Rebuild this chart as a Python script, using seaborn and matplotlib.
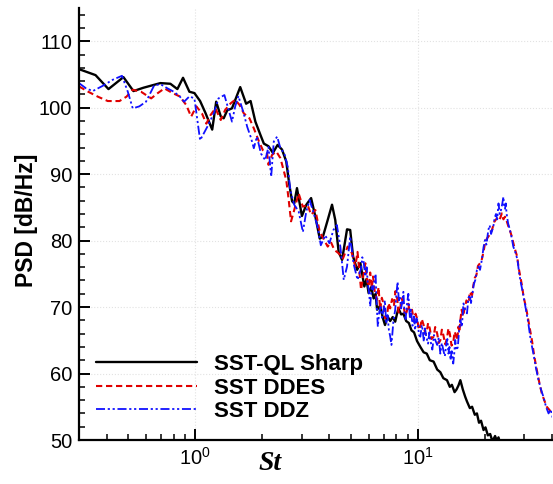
import numpy as np
import pandas as pd
import seaborn as sns
import matplotlib
matplotlib.use("Agg")
import matplotlib.pyplot as plt
from matplotlib.ticker import LogLocator, NullFormatter, MultipleLocator, FixedLocator

# ---------------- data ----------------
st_ql = [0.30, 0.33, 0.356, 0.407, 0.475, 0.527, 0.584, 0.696, 0.772, 0.83, 0.88, 0.94, 0.99,
         1.05, 1.11, 1.19, 1.24, 1.30, 1.34, 1.39, 1.46, 1.59, 1.69, 1.77, 1.86, 1.96, 2.03,
         2.13, 2.23, 2.34, 2.45, 2.56, 2.64, 2.72, 2.78, 2.86, 3.01, 3.15, 3.31, 3.46, 3.62,
         3.74, 3.93, 4.11, 4.25, 4.4, 4.56, 4.80, 4.96, 5.11, 5.33, 5.51, 5.74, 5.87, 6.0,
         6.16, 6.32, 6.45, 6.55, 6.76, 6.95, 7.11, 7.3, 7.5, 7.7, 7.9, 8.05, 8.17, 8.4, 8.6,
         8.85, 9.1, 9.35, 9.6, 9.9, 10.25, 10.6, 10.95, 11.3, 11.75, 12.2, 12.6, 13.0, 13.5,
         13.9, 14.2, 14.6, 14.9, 15.2, 15.5, 15.9, 16.3, 16.6, 17.1, 17.5, 18.0, 18.4, 18.8,
         19.2, 19.7, 20.1, 20.6, 21.1, 21.6, 22.2, 22.6, 23.0, 23.6, 24.5]
psd_ql = [105.8, 105.3, 104.9, 102.8, 104.6, 102.5, 103.0, 103.7, 103.6, 102.8, 104.5, 102.4, 102.2,
          101.0, 99.2, 96.7, 100.9, 98.7, 98.4, 99.6, 99.9, 103.1, 100.6, 101.0, 97.9, 95.9, 94.6,
          94.2, 93.2, 94.4, 93.7, 91.9, 88.5, 85.9, 85.6, 87.9, 83.7, 85.4, 86.4, 83.6, 80.3,
          80.6, 83.1, 85.4, 83.1, 78.3, 77.1, 81.7, 81.6, 77.6, 75.6, 76.6, 73.1, 74.2, 72.1,
          73.0, 71.3, 72.0, 69.6, 70.2, 68.4, 67.3, 68.6, 67.9, 68.5, 67.8, 69.0, 69.8, 68.9, 69.0,
          67.9, 67.6, 66.5, 66.2, 64.9, 64.0, 63.2, 63.0, 62.0, 61.8, 60.6, 60.2, 59.3, 59.0,
          58.0, 58.3, 57.2, 57.6, 58.2, 59.0, 57.6, 56.5, 55.8, 54.8, 55.0, 53.8, 54.0, 52.6,
          52.9, 51.5, 51.9, 50.7, 50.9, 49.8, 50.6, 49.9, 50.4, 49.0, 48.0]

st_ddes = [0.30, 0.33, 0.365, 0.404, 0.456, 0.49, 0.523, 0.57, 0.633, 0.678,
           0.726, 0.79, 0.85, 0.91, 0.957, 1.01, 1.07, 1.12, 1.17, 1.23,
           1.30, 1.36, 1.44, 1.51, 1.58, 1.65, 1.75, 1.83, 1.92, 2.01,
           2.10, 2.13, 2.21, 2.31, 2.41, 2.49, 2.56, 2.62, 2.69, 2.78,
           2.91, 3.04, 3.19, 3.31, 3.46, 3.62, 3.76, 3.93, 4.06, 4.21,
           4.4, 4.6, 4.83, 5.05, 5.23, 5.35, 5.55, 5.8, 5.9, 6.0,
           6.1, 6.2, 6.28, 6.4, 6.55, 6.65, 6.76, 6.88, 7.0, 7.12,
           7.25, 7.38, 7.5, 7.65, 7.8, 7.92, 8.05, 8.18, 8.3, 8.45,
           8.6, 8.75, 8.9, 9.05, 9.25, 9.4, 9.6, 9.75, 9.9, 10.1,
           10.25, 10.4, 10.6, 10.8, 10.95, 11.1, 11.3, 11.5, 11.75, 11.95,
           12.2, 12.4, 12.6, 12.8, 13.0, 13.25, 13.5, 13.7, 13.9, 14.15,
           14.4, 14.6, 14.8, 15.0, 15.2, 15.35, 15.5, 15.7, 15.95, 16.2,
           16.5, 16.9, 17.1, 17.3, 17.5, 17.7, 18.0, 18.3, 18.6, 19.0,
           19.3, 19.7, 20.0, 20.4, 20.9, 21.5, 22.0, 22.6, 23.2, 23.8,
           24.2, 24.6, 25.0, 25.5, 25.9, 26.4, 27.1, 27.9, 28.3, 28.8,
           29.3, 29.8, 30.3, 30.9, 31.7, 32.5, 33.3, 34.2, 35.1, 36.0,
           36.9, 37.9, 39.0, 40.0]
psd_ddes = [103.2, 102.4, 101.65, 101.0, 101.0, 101.65, 102.7, 102.4, 101.4, 102.2,
            102.9, 102.2, 101.7, 100.4, 98.65, 100.2, 99.15, 97.6, 98.9, 99.9,
            98.15, 99.65, 100.65, 101.2, 100.4, 99.15, 98.4, 96.9, 95.1, 93.6,
            93.1, 91.4, 92.9, 93.4, 92.4, 90.6, 89.1, 86.4, 82.9, 84.6,
            87.1, 85.1, 85.4, 83.9, 84.6, 81.3, 80.3, 79.1, 79.8, 78.6,
            78.1, 77.3, 79.1, 78.1, 76.1, 78.3, 72.6, 76.6, 74.0, 73.1,
            75.2, 72.8, 74.6, 72.2, 71.1, 73.0, 69.6, 71.4, 70.5, 68.3,
            68.6, 70.6, 69.8, 71.2, 70.3, 72.4, 71.5, 69.2, 69.6, 71.3,
            70.4, 68.7, 69.3, 70.5, 68.5, 69.6, 67.8, 69.0, 68.3, 66.6,
            67.05, 68.2, 67.3, 65.9, 66.3, 67.6, 66.8, 65.2, 65.55, 67.0,
            66.0, 64.6, 65.0, 66.6, 65.8, 64.4, 65.3, 66.8, 66.0, 64.2,
            64.6, 66.3, 65.8, 65.0, 67.05, 66.2, 68.0, 69.6, 68.6, 69.8,
            71.0, 70.55, 72.3, 72.0, 71.8, 73.1, 74.4, 74.8, 76.2, 76.6,
            77.0, 78.3, 79.6, 80.3, 80.8, 81.6, 82.8, 83.35, 83.0, 84.1,
            83.2, 83.6, 83.0, 82.1, 81.5, 80.6, 79.0, 77.6, 76.0, 74.6,
            73.3, 71.6, 70.5, 69.1, 67.0, 65.0, 62.6, 60.5, 58.6, 57.0,
            56.0, 55.0, 54.5, 54.0]

st_ddz = [0.30, 0.323, 0.346, 0.384, 0.425, 0.468, 0.497, 0.523, 0.56, 0.60,
          0.654, 0.70, 0.75, 0.80, 0.85, 0.89, 0.94, 0.99, 1.05, 1.13,
          1.21, 1.27, 1.35, 1.41, 1.46, 1.51, 1.56, 1.64, 1.71, 1.78,
          1.83, 1.89, 1.97, 2.06, 2.13, 2.19, 2.25, 2.33, 2.41, 2.51,
          2.60, 2.67, 2.78, 2.91, 3.04, 3.15, 3.26, 3.40, 3.54, 3.66,
          3.83, 4.0, 4.17, 4.32, 4.48, 4.64, 4.80, 4.96, 5.13, 5.35,
          5.55, 5.62, 5.7, 5.8, 5.88, 5.95, 6.02, 6.1, 6.2, 6.3,
          6.38, 6.45, 6.52, 6.6, 6.7, 6.8, 6.9, 7.0, 7.1, 7.2,
          7.3, 7.4, 7.5, 7.6, 7.75, 7.9, 8.0, 8.1, 8.2, 8.3,
          8.4, 8.5, 8.6, 8.7, 8.8, 8.9, 9.05, 9.2, 9.3, 9.45,
          9.6, 9.7, 9.85, 10.0, 10.1, 10.25, 10.4, 10.5, 10.62, 10.75,
          10.9, 11.1, 11.25, 11.4, 11.6, 11.8, 12.0, 12.2, 12.4, 12.6,
          12.8, 13.0, 13.2, 13.4, 13.55, 13.7, 13.85, 14.0, 14.2, 14.4,
          14.55, 14.7, 14.9, 15.1, 15.3, 15.5, 15.75, 16.0, 16.3, 16.6,
          16.85, 17.1, 17.3, 17.5, 17.8, 18.1, 18.4, 18.7, 19.0, 19.4,
          19.7, 20.0, 20.3, 20.7, 21.0, 21.3, 21.8, 22.1, 22.4, 22.7,
          23.0, 23.3, 23.6, 23.9, 24.2, 24.4, 24.6, 24.8, 25.0, 25.4,
          25.9, 26.3, 26.8, 27.4, 28.0, 28.5, 29.0, 29.5, 30.0, 30.6,
          31.3, 32.1, 33.0, 33.9, 34.8, 35.7, 36.6, 37.6, 38.6, 39.5,
          40.5]
psd_ddz = [103.7, 102.9, 102.5, 103.3, 104.2, 104.8, 102.4, 99.9, 100.2, 100.9,
           103.4, 103.5, 102.9, 102.4, 101.7, 100.9, 101.7, 101.4, 95.1, 97.1,
           99.15, 101.4, 101.9, 99.65, 97.9, 100.2, 101.75, 99.4, 97.1, 95.4,
           93.9, 95.65, 93.1, 92.1, 94.1, 89.6, 94.9, 95.65, 93.9, 93.1,
           91.1, 87.6, 85.4, 84.4, 81.3, 84.4, 86.1, 84.1, 82.1, 79.3,
           80.8, 79.6, 81.6, 82.35, 79.1, 74.1, 76.1, 80.6, 76.6, 74.1,
           75.8, 77.5, 76.8, 74.6, 76.0, 73.5, 72.4, 70.1, 73.3, 72.6,
           74.0, 75.0, 70.5, 67.05, 69.3, 70.0, 68.4, 69.6, 71.0, 67.5,
           68.8, 66.55, 65.6, 64.3, 67.8, 69.6, 72.0, 73.8, 71.0, 71.5,
           69.8, 70.8, 72.3, 69.0, 68.2, 70.05, 72.0, 68.3, 69.6, 67.2,
           68.6, 66.55, 68.3, 67.5, 65.8, 65.55, 67.3, 66.5, 64.8, 66.8,
           65.5, 64.5, 66.2, 64.8, 63.6, 65.8, 64.9, 64.3, 65.4, 63.0,
           64.6, 63.5, 62.6, 64.4, 65.2, 63.0, 64.0, 62.0, 63.6, 61.5,
           63.0, 65.05, 63.5, 64.0, 66.5, 68.05, 67.0, 70.55, 69.6, 69.05,
           71.4, 71.8, 70.6, 71.6, 73.4, 74.1, 75.6, 76.1, 75.6, 77.3,
           79.0, 80.1, 79.4, 81.6, 82.3, 81.0, 82.1, 83.4, 84.0, 83.2,
           85.6, 84.0, 84.6, 85.5, 86.6, 85.0, 84.8, 85.6, 84.1, 82.6,
           81.6, 80.6, 79.1, 78.2, 77.1, 75.0, 73.6, 72.4, 71.1, 69.5,
           67.6, 65.0, 63.0, 60.8, 59.0, 57.6, 56.5, 55.0, 54.0, 54.6,
           53.0]

labels = ["SST-QL Sharp", "SST DDES", "SST DDZ"]

# ---------------- style ----------------
sns.set_style("ticks")
plt.rcParams['font.family'] = ['Liberation Sans', 'DejaVu Sans']
plt.rcParams['mathtext.fontset'] = 'custom'
plt.rcParams['mathtext.rm'] = 'Liberation Sans'
plt.rcParams['mathtext.it'] = 'Liberation Sans:italic'
plt.rcParams['mathtext.bf'] = 'Liberation Sans:bold'
for k in ['text.color', 'axes.labelcolor', 'xtick.color', 'ytick.color', 'axes.edgecolor']:
    plt.rcParams[k] = 'black'

fig = plt.figure(figsize=(5.53, 4.84), dpi=100)
ax = fig.add_axes([79/553, 1 - 440/484, (552 - 79)/553, (440 - 8)/484])

sns.lineplot(x=st_ql, y=psd_ql, ax=ax, color='black', lw=1.7, sort=False,
             estimator=None, label=labels[0])
sns.lineplot(x=st_ddes, y=psd_ddes, ax=ax, color='#e00000', lw=1.5, sort=False,
             estimator=None, label=labels[1], linestyle=(0, (3, 1.8)))
sns.lineplot(x=st_ddz, y=psd_ddz, ax=ax, color='#1010ff', lw=1.3, sort=False,
             estimator=None, label=labels[2], linestyle=(0, (5, 1.5, 1.2, 1.5, 1.2, 1.5)))

ax.set_xscale('log')
ax.set_xlim(0.3, 40)
ax.set_ylim(50, 115)
ax.yaxis.set_major_locator(FixedLocator([50, 60, 70, 80, 90, 100, 110]))
ax.yaxis.set_minor_locator(MultipleLocator(2))
ax.xaxis.set_major_locator(LogLocator(base=10, numticks=10))
ax.xaxis.set_minor_locator(LogLocator(base=10, subs=np.arange(2, 10), numticks=20))
ax.xaxis.set_minor_formatter(NullFormatter())

ax.tick_params(which='major', direction='in', length=8, width=1.4, labelsize=14.5, pad=5,
               colors='black')
ax.tick_params(which='minor', direction='in', length=4, width=1.1, colors='black')
ax.grid(True, which='major', linestyle=':', color='#e2e2e2', lw=0.8)
for s in ['top', 'right']:
    ax.spines[s].set_visible(False)
for s in ['left', 'bottom']:
    ax.spines[s].set_linewidth(1.6)
    ax.spines[s].set_color('black')
ax.set_xlabel('')
ax.set_ylabel('')

fig.text(27/553, 1 - 220/484, 'PSD [dB/Hz]', rotation=90, ha='center', va='center',
         fontsize=16.5, fontweight='bold')
fig.text(270/553, 1 - 464/484, 'St', ha='center', va='center', fontsize=20,
         family=['Liberation Serif'], style='italic', fontweight='bold')

leg = ax.legend(loc='center left', bbox_to_anchor=(96/553, 1 - 388/484),
                bbox_transform=fig.transFigure, frameon=False,
                prop={'weight': 'bold', 'size': 16}, handlelength=4.55,
                handletextpad=0.75, labelspacing=0.12, borderpad=0, borderaxespad=0)

fig.savefig('out.png', dpi=100)
